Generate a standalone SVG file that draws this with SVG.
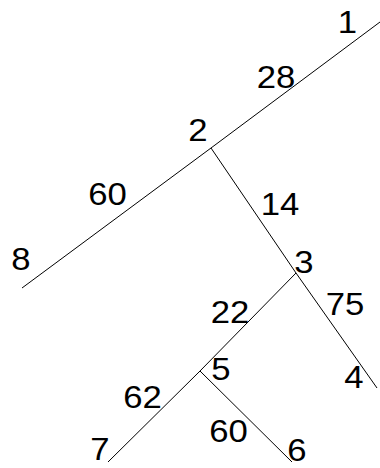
<svg xmlns="http://www.w3.org/2000/svg" width="380" height="468" viewBox="0 0 380 468">
<style>
line{stroke:#000;stroke-width:1;fill:none}
text{font-family:"Liberation Sans",Arial,sans-serif;font-size:31px;fill:#000;text-anchor:middle}
</style>
<rect width="380" height="468" fill="#fff"/>
<g id="connectors">
<line x1="380" y1="22" x2="211" y2="148"/>
<line x1="211" y1="148" x2="22" y2="288"/>
<line x1="211" y1="148" x2="296" y2="273"/>
<line x1="296" y1="273" x2="377" y2="388"/>
<line x1="296" y1="273" x2="200" y2="371"/>
<line x1="200" y1="371" x2="108" y2="462"/>
<line x1="200" y1="371" x2="292" y2="462"/>
<text transform="translate(276,88) scale(1.12,1)">28</text>
<text transform="translate(107.5,205) scale(1.12,1)">60</text>
<text transform="translate(280,215) scale(1.12,1)">14</text>
<text transform="translate(345,315) scale(1.12,1)">75</text>
<text transform="translate(230,323) scale(1.12,1)">22</text>
<text transform="translate(142.5,408) scale(1.12,1)">62</text>
<text transform="translate(228.5,442) scale(1.12,1)">60</text>
</g>
<g id="node1"><text transform="translate(347.5,33) scale(1.12,1)">1</text></g>
<g id="node2"><text transform="translate(198,141) scale(1.12,1)">2</text></g>
<g id="node3"><text transform="translate(304,273) scale(1.12,1)">3</text></g>
<g id="node4"><text transform="translate(354,388) scale(1.12,1)">4</text></g>
<g id="node5"><text transform="translate(221,380) scale(1.12,1)">5</text></g>
<g id="node6"><text transform="translate(297,461) scale(1.12,1)">6</text></g>
<g id="node7"><text transform="translate(100,460) scale(1.12,1)">7</text></g>
<g id="node8"><text transform="translate(21,270) scale(1.12,1)">8</text></g>
</svg>
